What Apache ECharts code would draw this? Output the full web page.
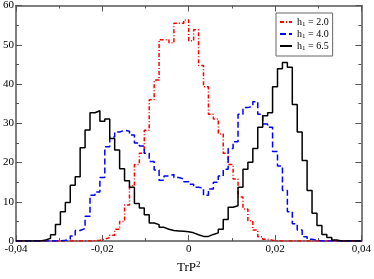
<!DOCTYPE html>
<html><head><meta charset="utf-8">
<script src="https://cdn.jsdelivr.net/npm/echarts@6/dist/echarts.min.js"></script>
<style>html,body{margin:0;padding:0;background:#fff}#c{width:374px;height:279px}</style>
</head><body><div id="c"></div>
<script>
// Histogram bins: 70 equal bins over [-0.04, 0.04]
const xRange = [-0.04, 0.04];
const binCount = 70;
const xTickLabels = ['-0,04', '-0,02', '0', '0,02', '0,04'];
const yTickLabels = ['0', '10', '20', '30', '40', '50', '60'];
const seriesNames = ['h1 = 2.0', 'h1 = 4.0', 'h1 = 6.5'];
const legendParts = [['h', '1', ' = 2.0'], ['h', '1', ' = 4.0'], ['h', '1', ' = 6.5']];
const axisTitle = ['TrP', '2'];

const redVals = [
  0, 0, 0, 0, 0, 0, 0, 0, 0, 0,
  0, 0, 0, 0, 0, 0.1, 0.2, 0.5, 0.9, 1.5,
  3.0, 5.0, 9.2, 14.1, 19.5, 22.4, 28.2, 36.0, 41.0, 51.3,
  51.3, 50.5, 55.5, 55.5, 56.3, 51.0, 53.8, 44.7, 39.3, 32.3,
  31.1, 27.3, 22.4, 19.5, 15.8, 11.2, 8.2, 5.2, 2.8, 1.1,
  0.5, 0.2, 0.1, 0, 0, 0, 0, 0, 0, 0,
  0, 0, 0, 0, 0, 0, 0, 0, 0, 0
];
const blueVals = [
  0, 0, 0, 0, 0, 0, 0, 0, 0, 0.2,
  0.5, 1.3, 2.7, 3.2, 6.3, 11.7, 12.5, 16.2, 24.0, 26.5,
  27.8, 28.2, 28.0, 27.0, 25.0, 24.2, 22.4, 20.3, 18.1, 15.5,
  16.6, 17.0, 16.2, 15.8, 15.1, 14.5, 13.7, 13.5, 11.7, 13.3,
  15.0, 16.6, 18.3, 23.6, 25.3, 32.3, 34.0, 34.4, 35.5, 32.3,
  29.8, 29.0, 22.8, 19.1, 12.9, 7.5, 4.4, 2.8, 1.1, 0.5,
  0.2, 0, 0, 0, 0, 0, 0, 0, 0, 0
];
const blackVals = [
  0, 0, 0, 0, 0, 0.3, 0.7, 1.6, 4.2, 7.5,
  9.8, 14.2, 16.4, 23.8, 28.3, 32.7, 33.2, 30.5, 31.1, 26.1,
  23.2, 18.4, 15.4, 13.7, 9.6, 8.4, 6.7, 4.6, 4.2, 3.5,
  3.0, 2.7, 2.6, 2.5, 2.4, 2.1, 1.6, 1.2, 1.2, 1.7,
  2.1, 3.0, 5.5, 8.6, 9.0, 13.7, 18.3, 20.1, 23.6, 29.0,
  31.9, 32.7, 39.3, 43.9, 45.5, 44.3, 34.8, 27.8, 20.5, 12.9,
  7.1, 4.0, 1.7, 0.9, 0.3, 0, 0, 0, 0, 0
];

const binW = (xRange[1] - xRange[0]) / binCount;
function toSteps(vals) {
  const d = vals.map((v, k) => [xRange[0] + k * binW, v]);
  d.push([xRange[0] + vals.length * binW, vals[vals.length - 1]]);
  return d;
}

const FONT = '"Liberation Serif", serif';
const AX = '#555';

function xAxisDef(top) {
  return {
    type: 'value', min: -0.04, max: 0.04, interval: 0.02,
    position: top ? 'top' : 'bottom',
    axisLine: { show: true, onZero: false, lineStyle: { color: AX, width: 1.5 } },
    axisTick: { show: true, inside: true, length: 6, lineStyle: { color: AX, width: 1 } },
    minorTick: { show: true, splitNumber: 2, length: 3, lineStyle: { color: AX, width: 1 } },
    splitLine: { show: false },
    axisLabel: top ? { show: false } : {
      show: true, fontFamily: FONT, fontSize: 11, color: '#000', margin: 3,
      formatter: v => xTickLabels[Math.round((v - xRange[0]) / 0.02)]
    },
    name: top ? '' : '{a|' + axisTitle[0] + '}{b|' + axisTitle[1] + '}',
    nameLocation: 'middle', nameGap: 16,
    nameTextStyle: {
      rich: {
        a: { fontFamily: FONT, fontSize: 13, color: '#000', lineHeight: 15 },
        b: { fontFamily: FONT, fontSize: 9, color: '#000', lineHeight: 9, verticalAlign: 'top' }
      }
    }
  };
}
function yAxisDef(right) {
  return {
    type: 'value', min: 0, max: 60, interval: 10,
    position: right ? 'right' : 'left',
    axisLine: { show: true, onZero: false, lineStyle: { color: AX, width: 1.5 } },
    axisTick: { show: true, inside: true, length: 6, lineStyle: { color: AX, width: 1 } },
    minorTick: { show: true, splitNumber: 2, length: 3, lineStyle: { color: AX, width: 1 } },
    splitLine: { show: false },
    axisLabel: right ? { show: false } : {
      show: true, fontFamily: FONT, fontSize: 11, color: '#000', margin: 2,
      formatter: v => yTickLabels[Math.round(v / 10)]
    }
  };
}

const colors = ['#ff0000', '#0000ff', '#000000'];
const dashes = [[4, 2, 1, 2], [6, 3], 'solid'];
const allVals = [redVals, blueVals, blackVals];

const chart = echarts.init(document.getElementById('c'), null, { renderer: 'canvas' });
chart.setOption({
  animation: false,
  backgroundColor: '#fff',
  grid: { left: 16, right: 11, top: 5, bottom: 32 },
  xAxis: [xAxisDef(false), xAxisDef(true)],
  yAxis: [yAxisDef(false), yAxisDef(true)],
  legend: {
    show: true,
    orient: 'vertical', left: 276, top: 13,
    padding: [4, 4, 4, 3], itemGap: 1, itemWidth: 12, itemHeight: 10,
    backgroundColor: '#fff', borderColor: '#666', borderWidth: 1,
    data: seriesNames,
    itemStyle: { color: 'rgba(0,0,0,0)', borderWidth: 0, opacity: 0 },
    formatter: name => {
      const p = legendParts[seriesNames.indexOf(name)];
      return '{a|' + p[0] + '}{b|' + p[1] + '}{a|' + p[2] + '}';
    },
    itemTextGap: 10,
    textStyle: {
      rich: {
        a: { fontFamily: FONT, fontSize: 10, color: '#000', lineHeight: 12 },
        b: { fontFamily: FONT, fontSize: 7, color: '#000', lineHeight: 7, verticalAlign: 'bottom' }
      }
    }
  },
  series: seriesNames.map((n, i) => ({
    name: n, type: 'line', step: 'end', symbol: 'none', showSymbol: false,
    xAxisIndex: 0, yAxisIndex: 0,
    data: toSteps(allVals[i]),
    lineStyle: { color: colors[i], width: 1.5, type: dashes[i] },
    itemStyle: { color: colors[i] },
    z: 2 + i
  }))
});
</script></body></html>
